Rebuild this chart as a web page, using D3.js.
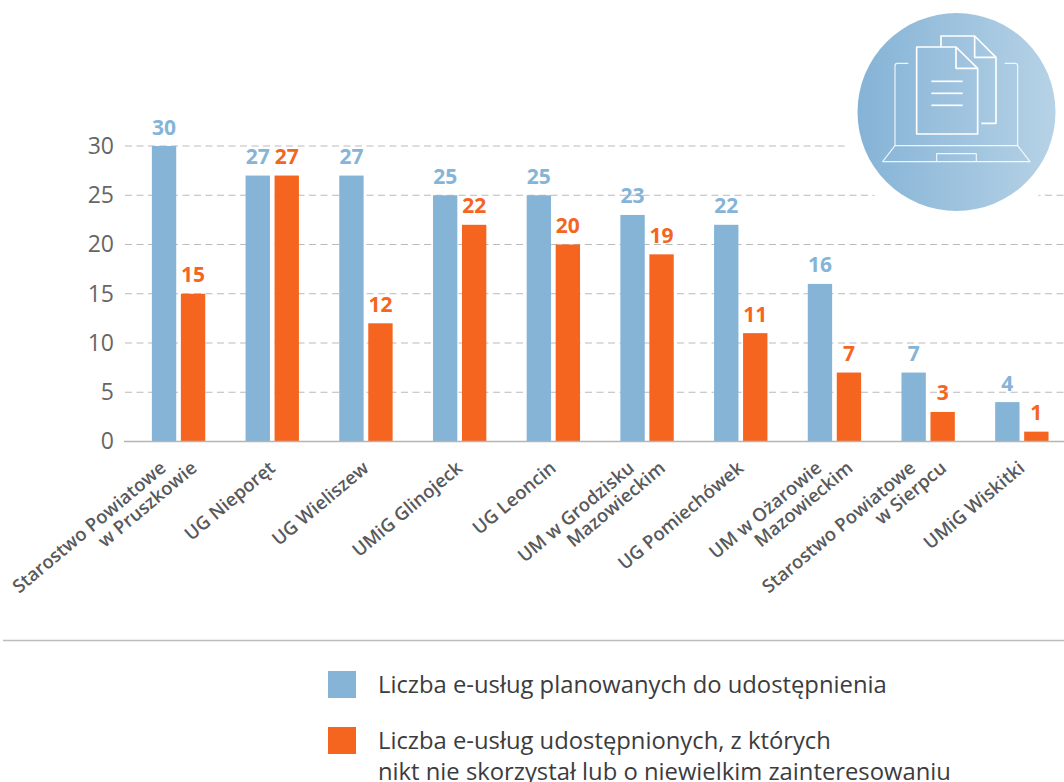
<!DOCTYPE html>
<html lang="pl">
<head>
<meta charset="utf-8">
<script src="https://cdn.jsdelivr.net/npm/d3@7"></script>
<style>
  html, body { margin: 0; padding: 0; background: #fff; }
  svg { display: block; font-family: "Open Sans", sans-serif; }
</style>
</head>
<body>
<svg></svg>
<script>
const categories = [
  ["Starostwo Powiatowe", "w Pruszkowie"],
  ["UG Nieporęt"],
  ["UG Wieliszew"],
  ["UMiG Glinojeck"],
  ["UG Leoncin"],
  ["UM w Grodzisku", "Mazowieckim"],
  ["UG Pomiechówek"],
  ["UM w Ożarowie", "Mazowieckim"],
  ["Starostwo Powiatowe", "w Sierpcu"],
  ["UMiG Wiskitki"]
];
const planned = [30, 27, 27, 25, 25, 23, 22, 16, 7, 4];
const published = [15, 27, 12, 22, 20, 19, 11, 7, 3, 1];
const yTicks = [0, 5, 10, 15, 20, 25, 30];
const seriesNames = ["planned", "published"];
const legendLines = [
  ["Liczba e-usług planowanych do udostępnienia"],
  ["Liczba e-usług udostępnionych, z których", "nikt nie skorzystał lub o niewielkim zainteresowaniu"]
];

const blue = "#85b4d7";
const orange = "#f5651f";

const svg = d3.select("svg")
  .attr("width", 1064)
  .attr("height", 782);

// scales
const x = d3.scaleBand()
  .domain(categories.map((d, i) => i))
  .range([131.7, 1068.7]);

const xInner = d3.scaleBand()
  .domain(seriesNames)
  .range([x.bandwidth() / 2 - 29, x.bandwidth() / 2 + 29])
  .paddingInner(0.16)
  .paddingOuter(0.08);

const y = d3.scaleLinear()
  .domain([0, 30])
  .range([441.5, 146]);

// gridlines
svg.append("g")
  .selectAll("line")
  .data(yTicks.filter(d => d > 0))
  .enter()
  .append("line")
  .attr("x1", 125)
  .attr("x2", 1064)
  .attr("y1", d => y(d))
  .attr("y2", d => y(d))
  .style("stroke", "#bbb")
  .style("stroke-width", 1.2)
  .style("stroke-dasharray", "7 4.5");

// y axis
const yAxis = svg.append("g")
  .attr("transform", "translate(125, 0)")
  .call(d3.axisLeft(y).tickValues(yTicks).tickSize(0).tickPadding(11));
yAxis.select(".domain").remove();
yAxis.selectAll("text")
  .style("font-family", "'Open Sans', sans-serif")
  .style("font-size", "23px")
  .style("fill", "#666");

// bars
const groups = svg.append("g")
  .selectAll("g")
  .data(categories.map((d, i) => i))
  .enter()
  .append("g")
  .attr("transform", i => `translate(${x(i)}, 0)`);

function drawSeries(name, values, color) {
  groups.append("rect")
    .attr("x", xInner(name))
    .attr("y", i => y(values[i]))
    .attr("width", xInner.bandwidth())
    .attr("height", i => y(0) - y(values[i]))
    .style("fill", color);

  groups.append("text")
    .text(i => values[i])
    .attr("x", xInner(name) + xInner.bandwidth() / 2)
    .attr("y", i => y(values[i]) - 11.5)
    .attr("text-anchor", "middle")
    .style("font-size", "21px")
    .style("font-weight", 700)
    .style("fill", color);
}
drawSeries("planned", planned, blue);
drawSeries("published", published, orange);

// x axis line and rotated labels
svg.append("line")
  .attr("x1", 124)
  .attr("x2", 1064)
  .attr("y1", y(0))
  .attr("y2", y(0))
  .style("stroke", "#b5b5b5")
  .style("stroke-width", 1.5);

groups.each(function (i) {
  const lines = categories[i];
  d3.select(this).selectAll("text.cat")
    .data(lines)
    .enter()
    .append("text")
    .attr("class", "cat")
    .text(d => d)
    .attr("text-anchor", "end")
    .attr("transform", (d, k) => {
      const cx = x.bandwidth() / 2 + 4 + (k - (lines.length - 1) / 2) * 31;
      return `translate(${cx}, 470) rotate(-40)`;
    })
    .style("font-size", "18.5px")
    .style("font-weight", 600)
    .style("fill", "#58595b");
});

// separator
svg.append("line")
  .attr("x1", 3)
  .attr("x2", 1064)
  .attr("y1", 640.5)
  .attr("y2", 640.5)
  .style("stroke", "#bcbcbc")
  .style("stroke-width", 1.3);

// legend
const legendRows = [693, 749];
const legend = svg.append("g")
  .selectAll("g")
  .data(legendLines)
  .enter()
  .append("g")
  .attr("transform", (d, i) => `translate(0, ${legendRows[i]})`);

legend.append("rect")
  .attr("x", 328)
  .attr("y", -22)
  .attr("width", 28)
  .attr("height", 27)
  .style("fill", (d, i) => [blue, orange][i]);

// last line runs off the bottom edge, same as the reference
legend.each(function (lines) {
  d3.select(this).selectAll("text")
    .data(lines)
    .enter()
    .append("text")
    .text(d => d)
    .attr("x", 378)
    .attr("y", (d, k) => k * 31)
    .style("font-size", "23.8px")
    .style("fill", "#3c3c3e");
});

// icon
const defs = svg.append("defs");
const grad = defs.append("linearGradient").attr("id", "iconFill");
grad.append("stop").attr("offset", "0%").attr("stop-color", "#85b3d6");
grad.append("stop").attr("offset", "100%").attr("stop-color", "#b6d2e6");

svg.append("circle")
  .attr("cx", 956.5)
  .attr("cy", 112)
  .attr("r", 117)
  .style("fill", "#fff");
svg.append("circle")
  .attr("cx", 956.5)
  .attr("cy", 112)
  .attr("r", 99)
  .style("fill", "url(#iconFill)");

const icon = svg.append("g")
  .attr("transform", "translate(840, 0) scale(0.3333)")
  .style("fill", "none")
  .style("stroke", "#fff")
  .style("stroke-linejoin", "round");

const thick = [
  "M303 140V108H404L468 172V370H424",
  "M404 108V172H468",
  "M230 402V141H348L413 205V402Z",
  "M348 141V205H413",
  "M274 244H368",
  "M274 280H368",
  "M274 316H368"
];
const thin = [
  "M205 190H172Q165 190 165 197V437H533V197Q533 190 526 190H494",
  "M165 437L128 485H570L533 437",
  "M290 485V461H409V485"
];
icon.selectAll("path.thick").data(thick).enter().append("path")
  .attr("class", "thick").attr("d", d => d).style("stroke-width", 5);
icon.selectAll("path.thin").data(thin).enter().append("path")
  .attr("class", "thin").attr("d", d => d).style("stroke-width", 3.5).style("opacity", 0.85);
</script>
</body>
</html>
